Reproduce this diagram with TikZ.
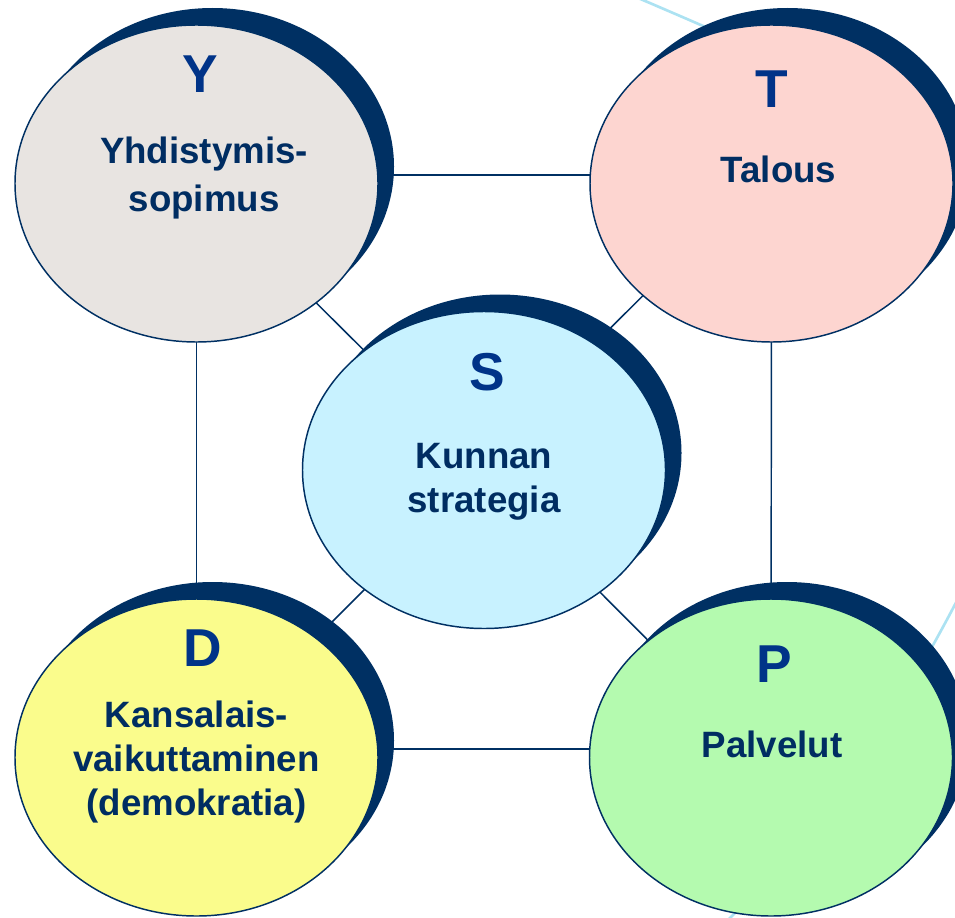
\documentclass[tikz,border=0pt]{standalone}
\usepackage{fontspec}
\setmainfont{Liberation Sans}
\usetikzlibrary{shapes.geometric,backgrounds}

\definecolor{navy}{RGB}{0,48,99}
\definecolor{letterblue}{RGB}{0,51,136}
\definecolor{textblue}{RGB}{0,45,98}
\definecolor{skyline}{RGB}{172,226,242}
\definecolor{yfill}{RGB}{232,228,225}
\definecolor{tfill}{RGB}{253,213,208}
\definecolor{sfill}{RGB}{200,242,255}
\definecolor{dfill}{RGB}{250,252,140}
\definecolor{pfill}{RGB}{180,250,175}

\tikzset{every picture/.style={line width=0.75pt}}
\tikzset{
  ball/.style={ellipse, draw=navy, line width=1.1pt, minimum width=272.25pt, minimum height=237.75pt, inner sep=0pt},
  link/.style={draw=navy, line width=1.1pt},
  letter/.style={anchor=base, inner sep=0pt, text=letterblue, font=\fontsize{40}{48}\selectfont\bfseries},
  bodytext/.style={anchor=base, inner sep=0pt, align=center, text=textblue, font=\fontsize{27.5}{33}\selectfont\bfseries}
}

\begin{document}
\begin{tikzpicture}[x=0.75pt,y=0.75pt,yscale=-1,xscale=1]
\useasboundingbox (0,0) rectangle (955,917);

%Shape: Ellipse [Y]
\node (Y) at (196.5,183.5) [ball, fill=yfill] {};
%Shape: Ellipse [T]
\node (T) at (771.5,183.5) [ball, fill=tfill] {};
%Shape: Ellipse [S]
\node (S) at (484,470) [ball, fill=sfill] {};
%Shape: Ellipse [D]
\node (D) at (196.5,757.5) [ball, fill=dfill] {};
%Shape: Ellipse [P]
\node (P) at (771,757.5) [ball, fill=pfill] {};

% Text Node
\draw (200,92) node (Ylet) [letter] {Y};
% Text Node
\draw (204,211) node (Ytxt) [bodytext, font=\fontsize{27.5}{36}\selectfont\bfseries] {Yhdistymis-\\sopimus};
% Text Node
\draw (772,107) node (Tlet) [letter] {T};
% Text Node
\draw (778.5,182) node (Ttxt) [bodytext] {Talous};
% Text Node
\draw (487,390) node (Slet) [letter] {S};
% Text Node
\draw (484,512) node (Stxt) [bodytext] {Kunnan\\strategia};
% Text Node
\draw (202.5,666) node (Dlet) [letter] {D};
% Text Node
\draw (196.5,815) node (Dtxt) [bodytext] {Kansalais-\\vaikuttaminen\\(demokratia)};
% Text Node
\draw (774.5,682) node (Plet) [letter] {P};
% Text Node
\draw (772,757) node (Ptxt) [bodytext] {Palvelut};

\begin{scope}[on background layer]
\clip (0,0) rectangle (955,917);
%Curve Lines
\draw [color=skyline, line width=2pt] (610,-14) .. controls (760,50) and (900,110) .. (980,170);
%Curve Lines
\draw [color=skyline, line width=2pt] (985,545) .. controls (900,720) and (810,850) .. (690,955);

%Straight Lines
\draw [link] ([shift={(0,-8.5)}]Y.center) -- ([shift={(0,-8.5)}]T.center);
%Straight Lines
\draw [link] ([shift={(0,-8.5)}]D.center) -- ([shift={(0,-8.5)}]P.center);
%Straight Lines
\draw [link] (Y.center) -- (D.center);
%Straight Lines
\draw [link] (T.center) -- (P.center);
%Straight Lines
\draw [link] ([shift={(3,3)}]Y.center) -- ([shift={(3,3)}]S.center);
%Straight Lines
\draw [link] ([shift={(-8,-8)}]T.center) -- ([shift={(-8,-8)}]S.center);
%Straight Lines
\draw [link] (D.center) -- (S.center);
%Straight Lines
\draw [link] ([shift={(-3,3)}]P.center) -- ([shift={(-3,3)}]S.center);

%Shape: Ellipse [shadows]
\fill [navy] (212.5,166.5) ellipse [x radius=181.5, y radius=158.5];
\fill [navy] (787.5,166.5) ellipse [x radius=181.5, y radius=158.5];
\fill [navy] (500,453) ellipse [x radius=181.5, y radius=158.5];
\fill [navy] (212.5,740.5) ellipse [x radius=181.5, y radius=158.5];
\fill [navy] (787,740.5) ellipse [x radius=181.5, y radius=158.5];
\end{scope}

\end{tikzpicture}
\end{document}
